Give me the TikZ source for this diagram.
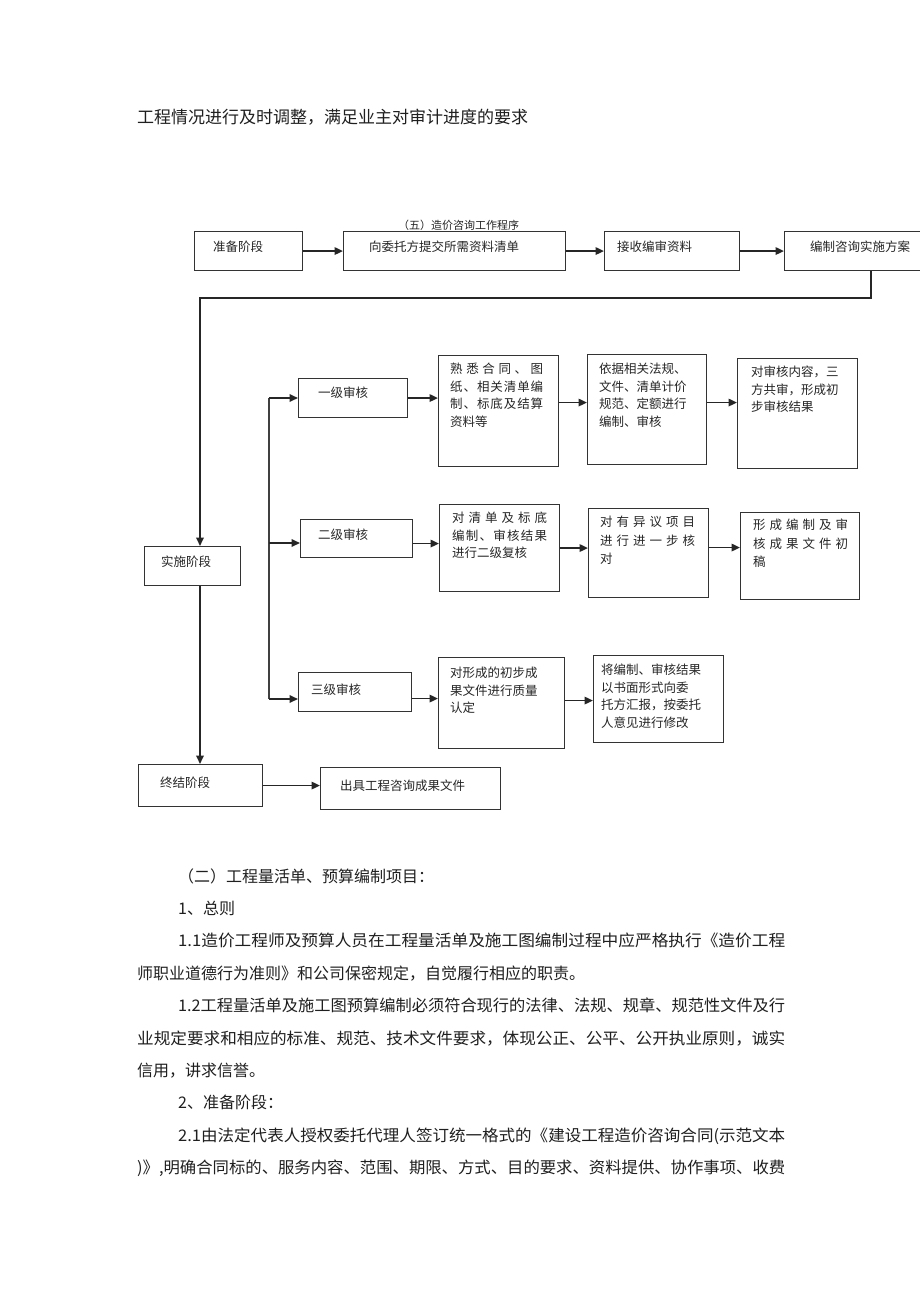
\documentclass[tikz,border=0pt]{standalone}
\usepackage{fontspec}
\usepackage{graphicx}
\setmainfont{Noto Sans CJK SC}
\usetikzlibrary{arrows.meta,calc}
\makeatletter
\newcommand\jline[2]{\leavevmode\hbox to #1{\let\jl@sep\relax\@tfor\jl@c:=#2\do{\jl@sep\jl@c\let\jl@sep\hfill}}}
\makeatother
\newcommand\bt[1]{\parbox[t]{130pt}{\fontsize{12.5}{17.6}\selectfont\raggedright #1}}
\newcommand\bodyf{\fontsize{16}{16}\selectfont}
\begin{document}
\begin{tikzpicture}[x=1pt,y=-1pt,
  box/.style={draw=black!80, line width=1.1pt, inner sep=0pt, anchor=north west},
  lbl/.style={inner sep=0pt, anchor=base west, text=black!85, font=\fontsize{12.5}{17.6}\selectfont},
  body/.style={inner sep=0pt, anchor=base west, text=black!88, font=\bodyf},
  conn/.style={line width=1.8pt, draw=black!85, -{Triangle[length=8.5pt,width=7.5pt]}},
  ln/.style={line width=1.5pt, draw=black!75}]
\fill[white] (0,0) rectangle (920,1303);
\useasboundingbox (0,0) rectangle (920,1303);

% top paragraph line
\node[body, font=\fontsize{17}{17}\selectfont] (top) at (137,124) {工程情况进行及时调整，满足业主对审计进度的要求};

% title
\node[lbl, font=\fontsize{11}{11}\selectfont] (title) at (398,229.2) {（五）造价咨询工作程序};

% row 1
\node[box, minimum width=108pt, minimum height=39pt] (prep) at (194,231) {};
\node[lbl] (prep-t) at (213,251.7) {准备阶段};
\node[box, minimum width=222pt, minimum height=39pt] (submit) at (343,231) {};
\node[lbl] (submit-t) at (369,251.7) {向委托方提交所需资料清单};
\node[box, minimum width=135pt, minimum height=39pt] (recv) at (604,231) {};
\node[lbl] (recv-t) at (617,251.7) {接收编审资料};
\node[box, minimum width=141pt, minimum height=39pt] (plan) at (784,231) {};
\node[lbl] (plan-t) at (810,251.7) {编制咨询实施方案};

\draw[conn] (prep.east) -- (submit.west);
\draw[conn] (submit.east) -- (recv.west);
\draw[conn] (recv.east) -- (plan.west);

% left column
\node[box, minimum width=96pt, minimum height=39pt] (impl) at (144,546) {};
\node[lbl] (impl-t) at (161,566.7) {实施阶段};
\node[box, minimum width=124pt, minimum height=42pt] (final) at (138,764) {};
\node[lbl] (final-t) at (160,787.7) {终结阶段};
\node[box, minimum width=180pt, minimum height=42pt] (issue) at (320,767) {};
\node[lbl] (issue-t) at (340,790.7) {出具工程咨询成果文件};

\coordinate (p1) at (871,298);
\coordinate (p2) at (200,298);
\draw[conn] (plan.south -| p1) -- (p1) -- (p2) -- (impl.north -| p2);
\draw[conn] (impl.south -| p2) -- (final.north -| p2);
\draw[conn] (final.east) -- (final.east -| issue.west);

% level boxes
\node[box, minimum width=109pt, minimum height=39pt] (L1) at (298,378) {};
\node[lbl] (L1-t) at (318,397.7) {一级审核};
\node[box, minimum width=112pt, minimum height=38pt] (L2) at (300,519) {};
\node[lbl] (L2-t) at (318,539.7) {二级审核};
\node[box, minimum width=113pt, minimum height=39pt] (L3) at (298,672) {};
\node[lbl] (L3-t) at (311,694.7) {三级审核};

\coordinate (br1) at (269,398);
\coordinate (br2) at (269,543);
\coordinate (br3) at (269,699);
\draw[ln] (br1) -- (br3);
\draw[conn] (br1) -- (br1 -| L1.west);
\draw[conn] (br2) -- (br2 -| L2.west);
\draw[conn] (br3) -- (br3 -| L3.west);

% row L1
\node[box, minimum width=120pt, minimum height=111pt] (B1) at (438,355) {};
\node[lbl] (B1-t) at (450,373.7) {\bt{\jline{93pt}{熟悉合同、图}\\\jline{93pt}{纸、相关清单编}\\\jline{93pt}{制、标底及结算}\\资料等}};
\node[box, minimum width=119pt, minimum height=110pt] (C1) at (587,354) {};
\node[lbl] (C1-t) at (599,373.7) {\bt{依据相关法规、\\文件、清单计价\\规范、定额进行\\编制、审核}};
\node[box, minimum width=120pt, minimum height=110pt] (D1) at (737,358) {};
\node[lbl] (D1-t) at (751,376.7) {\bt{对审核内容，三\\方共审，形成初\\步审核结果}};

\draw[conn] (L1.east) -- (L1.east -| B1.west);
\draw[conn] ([yshift=8.5pt]B1.east) -- ([yshift=8.5pt]B1.east -| C1.west);
\draw[conn] ([yshift=7pt]C1.east) -- ([yshift=7pt]C1.east -| D1.west);

% row L2
\node[box, minimum width=120pt, minimum height=87pt] (B2) at (439,504) {};
\node[lbl] (B2-t) at (452,522.7) {\bt{\jline{95pt}{对清单及标底}\\\jline{95pt}{编制、审核结果}\\进行二级复核}};
\node[box, minimum width=120pt, minimum height=89pt] (C2) at (588,508) {};
\node[lbl] (C2-t) at (600,526.7) {\parbox[t]{130pt}{\fontsize{12.5}{18.5}\selectfont\raggedright\jline{95pt}{对有异议项目}\\\jline{95pt}{进行进一步核}\\对}};
\node[box, minimum width=119pt, minimum height=87pt] (D2) at (740,512) {};
\node[lbl] (D2-t) at (753,529.7) {\parbox[t]{130pt}{\fontsize{12.5}{18.5}\selectfont\raggedright\jline{95pt}{形成编制及审}\\\jline{95pt}{核成果文件初}\\稿}};

\draw[conn] ([yshift=-5pt]L2.east) -- ([yshift=-5pt]L2.east -| B2.west);
\draw[conn] (B2.east) -- (B2.east -| C2.west);
\draw[conn] ([yshift=5.5pt]C2.east) -- ([yshift=5.5pt]C2.east -| D2.west);

% row L3
\node[box, minimum width=126pt, minimum height=91pt] (B3) at (438,657) {};
\node[lbl] (B3-t) at (450,677.7) {\bt{对形成的初步成\\果文件进行质量\\认定}};
\node[box, minimum width=130pt, minimum height=87pt] (C3) at (593,655) {};
\node[lbl] (C3-t) at (601,674.7) {\bt{将编制、审核结果\\以书面形式向委\\托方汇报，按委托\\人意见进行修改}};

\draw[conn] ([yshift=-6.5pt]L3.east) -- ([yshift=-6.5pt]L3.east -| B3.west);
\draw[conn] ([yshift=2.5pt]B3.east) -- ([yshift=2.5pt]B3.east -| C3.west);

% body text
\node[body] (h2) at (178,882) {（二）工程量活单、预算编制项目：};
\node[body] (s1) at (178,914.4) {1、总则};
\node[body] (l11) at (178,946.8) {\resizebox{607pt}{\height}{1.1造价工程师及预算人员在工程量活单及施工图编制过程中应严格执行《造价工程}};
\node[body] (l11b) at (137,979.2) {师职业道德行为准则》和公司保密规定，自觉履行相应的职责。};
\node[body] (l12) at (178,1011.6) {\resizebox{607pt}{\height}{1.2工程量活单及施工图预算编制必须符合现行的法律、法规、规章、规范性文件及行}};
\node[body] (l12b) at (137,1044) {\resizebox{648pt}{\height}{业规定要求和相应的标准、规范、技术文件要求，体现公正、公平、公开执业原则，诚实}};
\node[body] (l12c) at (137,1076.4) {信用，讲求信誉。};
\node[body] (s2) at (178,1108.8) {2、准备阶段：};
\node[body] (l21) at (178,1141.2) {\resizebox{607pt}{\height}{2.1由法定代表人授权委托代理人签订统一格式的《建设工程造价咨询合同(示范文本}};
\node[body] (l21b) at (137,1173.6) {\resizebox{648pt}{\height}{)》,明确合同标的、服务内容、范围、期限、方式、目的要求、资料提供、协作事项、收费}};
\end{tikzpicture}
\end{document}
